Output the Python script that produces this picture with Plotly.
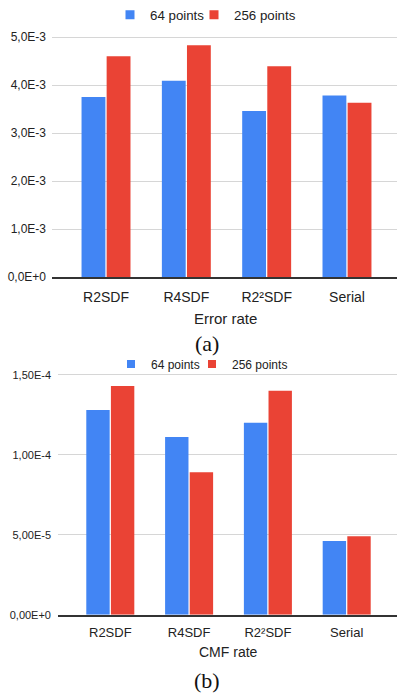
import plotly.graph_objects as go

W, H = 397, 693

categories = ["R2SDF", "R4SDF", "R2²SDF", "Serial"]
series_names = ["64 points", "256 points"]

err_64 = [3.75e-3, 4.09e-3, 3.46e-3, 3.78e-3]
err_256 = [4.60e-3, 4.83e-3, 4.39e-3, 3.63e-3]
err_ticks = [0, 1e-3, 2e-3, 3e-3, 4e-3, 5e-3]
err_ticklabels = ["0,0E+0", "1,0E-3", "2,0E-3", "3,0E-3", "4,0E-3", "5,0E-3"]

cmf_64 = [1.28e-4, 1.11e-4, 1.20e-4, 4.6e-5]
cmf_256 = [1.43e-4, 8.9e-5, 1.40e-4, 4.9e-5]
cmf_ticks = [0, 5e-5, 1e-4, 1.5e-4]
cmf_ticklabels = ["0,00E+0", "5,00E-5", "1,00E-4", "1,50E-4"]

BLUE = "#4285F4"
RED = "#EA4335"
FONT = "Liberation Sans, Arial, sans-serif"
SERIF = "Liberation Serif, Times New Roman, serif"

def py(px):
    return 1 - px / H

def pxx(px):
    return px / W

fig = go.Figure()

colors = [BLUE, RED]
for vals, col in zip([err_64, err_256], colors):
    fig.add_trace(go.Bar(x=categories, y=vals, marker_color=col, marker_line_width=0,
                         xaxis="x", yaxis="y", showlegend=False))
for vals, col in zip([cmf_64, cmf_256], colors):
    fig.add_trace(go.Bar(x=categories, y=vals, marker_color=col, marker_line_width=0,
                         xaxis="x2", yaxis="y2", showlegend=False))

# one legend per entry, so each can be placed like the reference
legend_ids = [["legend", "legend2"], ["legend3", "legend4"]]
for legs, xa, ya, sz in [(legend_ids[0], "x", "y", 9), (legend_ids[1], "x2", "y2", 8)]:
    for leg, name, col in zip(legs, series_names, colors):
        fig.add_trace(go.Scatter(x=[None], y=[None], mode="markers", name=name,
                                 marker=dict(symbol="square", size=sz, color=col),
                                 xaxis=xa, yaxis=ya, legend=leg, showlegend=True))

top_zero, top_scale = 277, 48 / 1e-3
top_top = 30
bot_zero, bot_scale = 614.7, 1.6 / 1e-6
bot_top = 366

def leg(xpx, ypx, size):
    return dict(orientation="h", x=pxx(xpx), xanchor="left", y=py(ypx), yanchor="middle",
                font=dict(family=FONT, size=size, color="#222"), itemwidth=30,
                bgcolor="rgba(0,0,0,0)", borderwidth=0)

fig.update_layout(
    width=W, height=H,
    margin=dict(l=0, r=0, t=0, b=0, autoexpand=False),
    paper_bgcolor="white", plot_bgcolor="white",
    barmode="group", bargap=0.375, bargroupgap=0.05,
    font=dict(family=FONT, color="#222"),
    xaxis=dict(domain=[pxx(52), 1], anchor="y", type="category",
               range=[-(106 - 52) / 80.3, 3 + (397 - 347) / 80.3],
               showgrid=False, showline=True, linecolor="#333", linewidth=1.5,
               ticks="", ticklabelstandoff=6,
               tickfont=dict(family=FONT, color="#222", size=14)),
    yaxis=dict(domain=[py(top_zero), py(top_top)], anchor="x",
               range=[0, (top_zero - top_top) / top_scale],
               tickvals=err_ticks, ticktext=err_ticklabels, ticklabelstandoff=5,
               showgrid=True, gridcolor="#d6d6d6", gridwidth=1, zeroline=False,
               showline=False, ticks="", tickfont=dict(family=FONT, color="#222", size=12)),
    xaxis2=dict(domain=[pxx(58), 1], anchor="y2", type="category",
                range=[-(110.3 - 58) / 78.8, 3 + (397 - 346.7) / 78.8],
                showgrid=False, showline=True, linecolor="#333", linewidth=1.5,
                ticks="", ticklabelstandoff=5,
                tickfont=dict(family=FONT, color="#222", size=13)),
    yaxis2=dict(domain=[py(bot_zero), py(bot_top)], anchor="x2",
                range=[0, (bot_zero - bot_top) / bot_scale],
                tickvals=cmf_ticks, ticktext=cmf_ticklabels, ticklabelstandoff=6,
                showgrid=True, gridcolor="#d6d6d6", gridwidth=1, zeroline=False,
                showline=False, ticks="", tickfont=dict(family=FONT, color="#222", size=11)),
    legend=leg(110, 15, 13.3),
    legend2=leg(194, 15, 13.3),
    legend3=leg(111, 364, 12),
    legend4=leg(192, 364, 12),
)

fig.add_annotation(text="Error rate", x=pxx(226), y=py(319), xref="paper", yref="paper",
                   showarrow=False, font=dict(family=FONT, size=15, color="#222"),
                   xanchor="center", yanchor="middle")
fig.add_annotation(text="CMF rate", x=pxx(228.5), y=py(652), xref="paper", yref="paper",
                   showarrow=False, font=dict(family=FONT, size=14, color="#222"),
                   xanchor="center", yanchor="middle")
fig.add_annotation(text="(a)", x=pxx(207), y=py(343), xref="paper", yref="paper",
                   showarrow=False, font=dict(family=SERIF, size=22, color="#111"),
                   xanchor="center", yanchor="middle")
fig.add_annotation(text="(b)", x=pxx(207), y=py(680), xref="paper", yref="paper",
                   showarrow=False, font=dict(family=SERIF, size=22, color="#111"),
                   xanchor="center", yanchor="middle")

fig.write_html("out.html", config={"displayModeBar": False},
               post_script="document.body.style.margin='0';document.body.style.overflow='hidden';")
